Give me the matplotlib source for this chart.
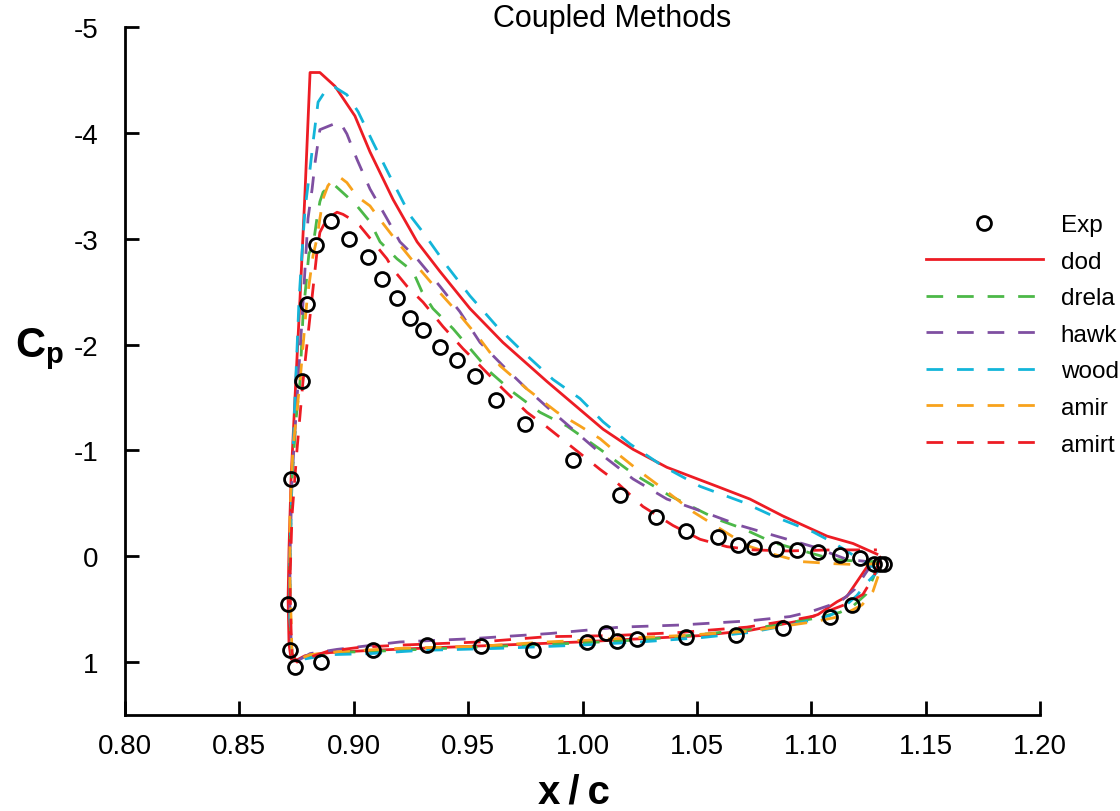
import matplotlib
matplotlib.use("Agg")
import matplotlib.pyplot as plt

plt.rcParams['font.family'] = ['Liberation Sans', 'DejaVu Sans']
plt.rcParams['mathtext.fontset'] = 'custom'
plt.rcParams['mathtext.bf'] = 'Liberation Sans:bold'
plt.rcParams['mathtext.rm'] = 'Liberation Sans'

# experiment (upper surface then lower surface)
exp_x = [0.8726, 0.8774, 0.8796, 0.8835, 0.8901, 0.8979, 0.9062, 0.9124, 0.9189, 0.9246,
         0.9303, 0.9377, 0.9451, 0.9530, 0.9622, 0.9749, 0.9958, 1.0164, 1.0321, 1.0452,
         1.0592, 1.0680, 1.0750, 1.0846, 1.0938, 1.1030, 1.1126, 1.1213, 1.1274, 1.1301, 1.1318,
         0.8713, 0.8721, 0.8743, 0.8857, 0.9084, 0.9320, 0.9556, 0.9784, 1.0020, 1.0103,
         1.0151, 1.0238, 1.0452, 1.0671, 1.0877, 1.1082, 1.1178]
exp_cp = [-0.73, -1.66, -2.38, -2.94, -3.17, -3.00, -2.83, -2.62, -2.44, -2.25,
          -2.14, -1.98, -1.85, -1.70, -1.48, -1.25, -0.91, -0.58, -0.37, -0.24,
          -0.18, -0.11, -0.09, -0.07, -0.06, -0.04, -0.01, 0.02, 0.07, 0.07, 0.07,
          0.45, 0.89, 1.05, 1.00, 0.89, 0.84, 0.85, 0.89, 0.81, 0.73,
          0.80, 0.78, 0.76, 0.74, 0.68, 0.57, 0.46]

# dod
dod_x = [1.1301, 1.1244, 1.1156, 1.1113, 1.1030, 1.0951, 1.0732, 1.0514, 1.0251, 0.9989,
         0.9639, 0.9290, 0.9071, 0.8896, 0.8787, 0.8743, 0.8726, 0.8717, 0.8713, 0.8717,
         0.8726, 0.8743, 0.8765, 0.8787, 0.8809, 0.8852, 0.8918, 0.9005, 0.9071, 0.9172,
         0.9277, 0.9377, 0.9508, 0.9652, 0.9845, 1.0090, 1.0221, 1.0369, 1.0588, 1.0732,
         1.0876, 1.1069, 1.1183, 1.1287]
dod_cp = [0.01, 0.10, 0.38, 0.43, 0.55, 0.61, 0.70, 0.75, 0.78, 0.81,
          0.84, 0.87, 0.89, 0.91, 0.94, 0.99, 0.97, 0.83, 0.40, -0.07,
          -0.73, -1.49, -2.43, -3.44, -4.57, -4.57, -4.44, -4.16, -3.82, -3.37,
          -2.97, -2.69, -2.34, -2.02, -1.65, -1.20, -1.01, -0.84, -0.66, -0.54,
          -0.38, -0.19, -0.12, -0.02]

# drela
drela_x = [1.1292, 1.1270, 1.1239, 1.1183, 1.1126, 1.1008, 1.0732, 1.0514, 1.0251, 0.9989,
           0.9639, 0.9290, 0.9071, 0.8896, 0.8787, 0.8748, 0.8730, 0.8721, 0.8721, 0.8730,
           0.8748, 0.8765, 0.8778, 0.8804, 0.8822, 0.8839, 0.8852, 0.8866, 0.8896, 0.8909,
           0.8970, 0.9014, 0.9071, 0.9115, 0.9189, 0.9259, 0.9298, 0.9346, 0.9434, 0.9521,
           0.9596, 0.9696, 0.9814, 0.9932, 1.0077, 1.0221, 1.0383, 1.0588, 1.0702, 1.0833,
           1.0981, 1.1095, 1.1226, 1.1287]
drela_cp = [0.09, 0.21, 0.36, 0.47, 0.53, 0.59, 0.69, 0.74, 0.79, 0.82,
            0.85, 0.88, 0.90, 0.91, 0.95, 0.99, 0.92, 0.59, 0.03, -0.73,
            -1.30, -1.65, -2.27, -2.86, -2.93, -3.19, -3.35, -3.44, -3.50, -3.52,
            -3.40, -3.31, -3.16, -2.97, -2.81, -2.69, -2.50, -2.34, -2.15, -1.93,
            -1.74, -1.55, -1.36, -1.23, -1.01, -0.78, -0.57, -0.35, -0.26, -0.13,
            -0.04, 0.03, 0.05, 0.05]

# hawk
hawk_x = [1.1266, 1.1191, 1.1126, 1.1003, 1.0907, 1.0732, 1.0426, 1.0164, 0.9858, 0.9508,
          0.9202, 0.8927, 0.8809, 0.8752, 0.8730, 0.8721, 0.8721, 0.8730, 0.8752, 0.8774,
          0.8800, 0.8818, 0.8831, 0.8852, 0.8909, 0.8940, 0.8970, 0.9014, 0.9071, 0.9145,
          0.9202, 0.9277, 0.9377, 0.9464, 0.9552, 0.9652, 0.9757, 0.9871, 1.0107, 1.0221,
          1.0369, 1.0514, 1.0689, 1.0863, 1.1008, 1.1156, 1.1244]
hawk_cp = [0.07, 0.31, 0.43, 0.52, 0.57, 0.61, 0.65, 0.67, 0.73, 0.78,
           0.81, 0.88, 0.92, 0.99, 0.92, 0.59, 0.03, -0.73, -1.49, -2.24,
           -3.19, -3.47, -3.72, -4.03, -4.08, -4.10, -3.99, -3.75, -3.47, -3.19,
           -2.97, -2.81, -2.55, -2.31, -2.02, -1.80, -1.58, -1.36, -0.92, -0.73,
           -0.54, -0.43, -0.29, -0.18, -0.09, 0.03, 0.05]

# wood
wood_x = [1.1301, 1.1248, 1.1200, 1.1148, 1.1082, 1.0951, 1.0732, 1.0514, 1.0251, 0.9989,
          0.9639, 0.9290, 0.9071, 0.8896, 0.8787, 0.8752, 0.8730, 0.8721, 0.8721, 0.8730,
          0.8743, 0.8761, 0.8774, 0.8787, 0.8809, 0.8822, 0.8844, 0.8883, 0.8918, 0.8970,
          0.9019, 0.9084, 0.9158, 0.9246, 0.9303, 0.9408, 0.9508, 0.9626, 0.9740, 0.9871,
          0.9989, 1.0090, 1.0208, 1.0352, 1.0514, 1.0702, 1.0833, 1.1008, 1.1095, 1.1213,
          1.1309]
wood_cp = [0.12, 0.24, 0.37, 0.47, 0.56, 0.63, 0.72, 0.77, 0.81, 0.84,
           0.87, 0.89, 0.92, 0.93, 0.97, 1.00, 0.92, 0.59, 0.03, -0.73,
           -1.49, -2.43, -2.87, -3.28, -3.66, -3.91, -4.29, -4.42, -4.43, -4.36,
           -4.20, -3.91, -3.59, -3.22, -3.06, -2.74, -2.46, -2.17, -1.93, -1.67,
           -1.49, -1.27, -1.06, -0.85, -0.66, -0.51, -0.38, -0.23, -0.13, 0.03,
           0.15]

# amir
amir_x = [1.1292, 1.1270, 1.1222, 1.1126, 1.1008, 1.0719, 1.0426, 1.0133, 0.9845, 0.9552,
          0.9202, 0.8940, 0.8809, 0.8752, 0.8730, 0.8726, 0.8721, 0.8721, 0.8734, 0.8765,
          0.8796, 0.8822, 0.8839, 0.8852, 0.8866, 0.8887, 0.8909, 0.8940, 0.8970, 0.9014,
          0.9071, 0.9115, 0.9172, 0.9277, 0.9364, 0.9451, 0.9552, 0.9639, 0.9757, 0.9889,
          0.9989, 1.0077, 1.0164, 1.0251, 1.0369, 1.0483, 1.0601, 1.0719, 1.0833, 1.0951,
          1.1095, 1.1213, 1.1287]
amir_cp = [0.19, 0.33, 0.46, 0.57, 0.62, 0.71, 0.75, 0.78, 0.81, 0.85,
           0.87, 0.90, 0.93, 0.98, 0.92, 0.59, 0.24, -0.38, -1.01, -1.65,
           -2.43, -2.84, -3.00, -3.19, -3.38, -3.50, -3.56, -3.58, -3.53, -3.40,
           -3.31, -3.18, -3.02, -2.74, -2.52, -2.31, -2.05, -1.80, -1.58, -1.36,
           -1.23, -1.11, -0.95, -0.80, -0.61, -0.42, -0.26, -0.10, -0.02, 0.05,
           0.07, 0.08, 0.07]

# amirt
amirt_x = [1.1301, 1.1274, 1.1226, 1.1156, 1.1095, 1.1025, 1.0951, 1.0719, 1.0426, 1.0133,
           0.9845, 0.9552, 0.9202, 0.9027, 0.8883, 0.8787, 0.8752, 0.8730, 0.8726, 0.8721,
           0.8730, 0.8752, 0.8778, 0.8809, 0.8839, 0.8852, 0.8883, 0.8927, 0.8953, 0.8984,
           0.9027, 0.9084, 0.9145, 0.9172, 0.9233, 0.9303, 0.9390, 0.9478, 0.9552, 0.9652,
           0.9757, 0.9845, 1.0077, 1.0133, 1.0264, 1.0396, 1.0514, 1.0632, 1.0745, 1.0894,
           1.1095, 1.1287]
amirt_cp = [0.03, 0.19, 0.36, 0.45, 0.50, 0.56, 0.59, 0.67, 0.72, 0.75,
            0.76, 0.81, 0.84, 0.86, 0.90, 0.97, 1.00, 0.92, 0.69, 0.24,
            -0.38, -1.01, -1.65, -2.27, -2.87, -3.06, -3.19, -3.25, -3.23, -3.19,
            -3.12, -2.97, -2.81, -2.71, -2.55, -2.40, -2.17, -1.96, -1.80, -1.58,
            -1.36, -1.22, -0.82, -0.73, -0.47, -0.29, -0.16, -0.09, -0.06, -0.05,
            -0.06, -0.06]

red = '#ED1C24'
green = '#4CB848'
purple = '#7F4FA1'
cyan = '#13B5D9'
orange = '#F8A21C'
dash = (6, 5)

fig = plt.figure(figsize=(11.2, 8.12), dpi=100)
ax = fig.add_axes([125/1120, 1 - 716/812, 915/1120, 688/812])

l_dod, = ax.plot(dod_x, dod_cp, color=red, lw=2, label='dod')
l_drela, = ax.plot(drela_x, drela_cp, color=green, lw=2, dashes=dash, label='drela')
l_hawk, = ax.plot(hawk_x, hawk_cp, color=purple, lw=2, dashes=dash, label='hawk')
l_wood, = ax.plot(wood_x, wood_cp, color=cyan, lw=2, dashes=dash, label='wood')
l_amir, = ax.plot(amir_x, amir_cp, color=orange, lw=2, dashes=dash, label='amir')
l_amirt, = ax.plot(amirt_x, amirt_cp, color=red, lw=2, dashes=dash, label='amirt')
l_exp, = ax.plot(exp_x, exp_cp, 'o', ms=10, mfc='none', mec='black', mew=2, label='Exp', zorder=5)

ax.set_xlim(0.80, 1.20)
ax.set_ylim(1.5, -5)
ax.set_xticks([0.80, 0.85, 0.90, 0.95, 1.00, 1.05, 1.10, 1.15, 1.20])
ax.set_xticklabels(['0.80', '0.85', '0.90', '0.95', '1.00', '1.05', '1.10', '1.15', '1.20'])
ax.set_yticks([-5, -4, -3, -2, -1, 0, 1])
ax.set_yticklabels(['-5', '-4', '-3', '-2', '-1', '0', '1'])
for s in ['top', 'right']:
    ax.spines[s].set_visible(False)
for s in ['left', 'bottom']:
    ax.spines[s].set_linewidth(2)
ax.tick_params(direction='in', length=10, width=2, labelsize=20)
ax.tick_params(axis='y', pad=19)
ax.tick_params(axis='x', pad=13)

fig.text(612/1120, 1 - 19/812, 'Coupled Methods', ha='center', va='center', fontsize=22)
fig.text(40/1120, 1 - 349/812, r'$\mathbf{C_p}$', ha='center', va='center', fontsize=30)
fig.text(574/1120, 1 - 793/812, 'x\u2009/\u2009c', ha='center', va='center', fontsize=29, fontweight='bold')

ax.legend(handles=[l_exp, l_dod, l_drela, l_hawk, l_wood, l_amir, l_amirt],
          loc='upper left', bbox_to_anchor=(926/1120, 1 - 215/812),
          bbox_transform=fig.transFigure, frameon=False, fontsize=17.5,
          handlelength=4.8, handletextpad=0.74, labelspacing=0.6, borderpad=0,
          borderaxespad=0)

fig.savefig('out.png', dpi=100)
